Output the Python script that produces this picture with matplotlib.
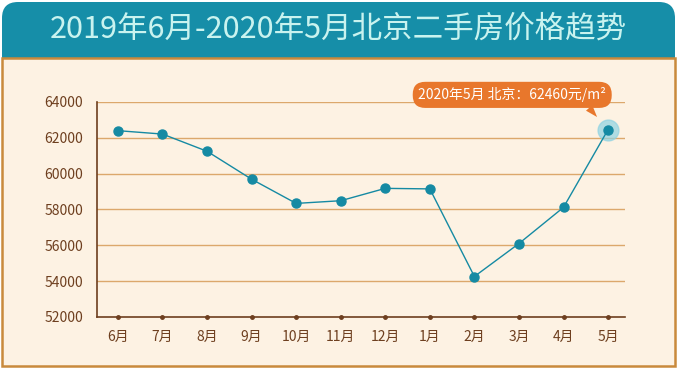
import matplotlib
matplotlib.use('Agg')
import matplotlib.pyplot as plt
from matplotlib.patches import FancyBboxPatch, Rectangle

plt.rcParams['font.family'] = ['Noto Sans CJK SC', 'DejaVu Sans']

# data
months = ['6月', '7月', '8月', '9月', '10月', '11月', '12月', '1月', '2月', '3月', '4月', '5月']
prices = [62400, 62210, 61250, 59690, 58340, 58490, 59180, 59150, 54260, 56100, 58120, 62460]
yticks = [52000, 54000, 56000, 58000, 60000, 62000, 64000]
title = '2019年6月-2020年5月北京二手房价格趋势'
note = '2020年5月 北京：62460元/m²'

teal = '#168ea8'
cream = '#fdf2e3'
border = '#c98a3c'
brown = '#6e3f1f'
grid_c = '#dca86c'
dot_c = '#158aa3'
orange = '#e8772c'

W, H = 677, 368
fig = plt.figure(figsize=(W / 100, H / 100), dpi=100)
fig.patch.set_facecolor('white')

# background layer in pixel coordinates
bg = fig.add_axes([0, 0, 1, 1])
bg.set_xlim(0, W)
bg.set_ylim(H, 0)
bg.axis('off')
bg.add_patch(FancyBboxPatch((2, 2), W - 4, 70, boxstyle='round,pad=0,rounding_size=16',
                            fc=teal, ec='none'))
bg.add_patch(Rectangle((1.5, 58), W - 3.5, H - 60, fc=cream, ec=border, lw=1.8))
bg.text(W / 2, 29, title, color='#c9f3ef', fontsize=22, ha='center', va='center')

# chart
ax = fig.add_axes([97 / W, 1 - 317 / H, (625 - 97) / W, (317 - 102) / H])
ax.set_facecolor('none')
x = list(range(len(months)))

for y in yticks[1:]:
    ax.axhline(y, color=grid_c, lw=1, zorder=1)

ax.plot(x, prices, color=dot_c, lw=1, zorder=3)
ax.plot(x, prices, 'o', color=dot_c, ms=6.5, zorder=4)
ax.plot(x[-1], prices[-1], 'o', color='#8fd3e2', ms=15, alpha=0.7, zorder=2)
ax.plot(x, [yticks[0]] * len(x), 'o', color=brown, ms=2.5, clip_on=False, zorder=5)

ax.set_xlim(-0.47, len(x) - 1 + 0.38)
ax.set_ylim(yticks[0], yticks[-1])
ax.set_yticks(yticks)
ax.set_xticks(x)
ax.set_xticklabels(months)
ax.tick_params(axis='both', length=0, colors=brown, labelsize=10)
ax.tick_params(axis='y', pad=10)
ax.tick_params(axis='x', pad=9)
for s in ['top', 'right']:
    ax.spines[s].set_visible(False)
for s in ['left', 'bottom']:
    ax.spines[s].set_color(brown)
    ax.spines[s].set_linewidth(1.2)

ax.annotate(note, xy=(x[-1], prices[-1]), xytext=(-69, 25), textcoords='offset points',
            ha='center', va='center', color='white', fontsize=10,
            bbox=dict(boxstyle='round,pad=0.4,rounding_size=0.9', fc=orange, ec='none'),
            arrowprops=dict(arrowstyle='wedge,tail_width=0.6', fc=orange, ec='none',
                            relpos=(0.88, 0.05), shrinkA=0, shrinkB=12),
            zorder=6)

fig.savefig('out.png', dpi=100)
